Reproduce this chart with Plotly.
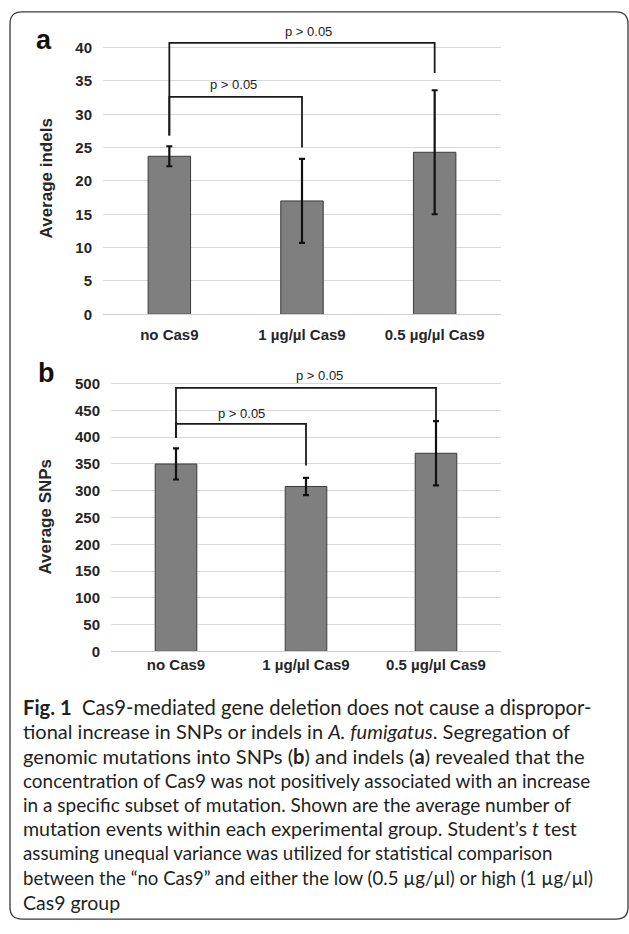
import plotly.graph_objects as go

W, H = 629, 934

# ---------------- data ----------------
categories = ["no Cas9", "1 µg/µl Cas9", "0.5 µg/µl Cas9"]
indels_mean = [23.7, 17.0, 24.3]
indels_err = [1.5, 6.3, 9.3]
snps_mean = [350, 308, 370]
snps_err = [29, 16, 60]
indels_ticks = [0, 5, 10, 15, 20, 25, 30, 35, 40]
snps_ticks = [0, 50, 100, 150, 200, 250, 300, 350, 400, 450, 500]
# significance brackets: [group_a, group_b, bar level, leg bottom a, leg bottom b]
indels_brackets = [[0, 1, 32.6, 26.8, 25.0], [0, 2, 40.7, 26.8, 36.2]]
snps_brackets = [[0, 1, 425, 399, 347], [0, 2, 492, 399, 431]]
p_label = "p > 0.05"

caption_lines = [
    "<b>Fig. 1</b>  Cas9-mediated gene deletion does not cause a dispropor-",
    "tional increase in SNPs or indels in <i>A. fumigatus</i>. Segregation of",
    "genomic mutations into SNPs (<b>b</b>) and indels (<b>a</b>) revealed that the",
    "concentration of Cas9 was not positively associated with an increase",
    "in a specific subset of mutation. Shown are the average number of",
    "mutation events within each experimental group. Student’s <i>t</i> test",
    "assuming unequal variance was utilized for statistical comparison",
    "between the “no Cas9” and either the low (0.5 µg/µl) or high (1 µg/µl)",
    "Cas9 group",
]
# per-line font sizes so each line fills the same width as the original typesetting
caption_sizes = [20.2, 20.0, 20.1, 18.95, 19.0, 19.6, 18.7, 18.6, 19.5]


def PX(x):
    return x / W


def PY(y):
    return 1 - y / H


fig = go.Figure()

BAR_COLOR = "#7f7f7f"
GRID = "#d9d9d9"
TXT = "#262626"
FONT = "Liberation Sans, Arial, sans-serif"

panels = [
    dict(xa="x", ya="y", mean=indels_mean, err=indels_err, br=indels_brackets),
    dict(xa="x2", ya="y2", mean=snps_mean, err=snps_err, br=snps_brackets),
]

for p in panels:
    fig.add_trace(go.Bar(
        x=categories, y=p["mean"], xaxis=p["xa"], yaxis=p["ya"],
        width=0.32,
        marker=dict(color=BAR_COLOR, line=dict(color="#3a3a3a", width=1)),
        error_y=dict(type="data", array=p["err"], visible=True,
                     color="#111111", thickness=2.2, width=3),
        showlegend=False, hoverinfo="skip",
    ))
    for g1, g2, lvl, b1, b2 in p["br"]:
        fig.add_trace(go.Scatter(
            x=[categories[g1], categories[g1], categories[g2], categories[g2]],
            y=[b1, lvl, lvl, b2],
            xaxis=p["xa"], yaxis=p["ya"], mode="lines",
            line=dict(color="#1a1a1a", width=1.8),
            cliponaxis=False, showlegend=False, hoverinfo="skip",
        ))

# axes geometry (pixels): zero line, pixel per unit, top of range
a_y0, a_scale, a_top = 317, 6.725, 45
b_y0, b_scale, b_top = 657, 0.54, 560

TICKFONT = dict(family=FONT, size=15, color=TXT, weight="bold")
axis_common = dict(showgrid=False, zeroline=False, ticks="", tickfont=TICKFONT,
                   showline=True, linecolor="#cfcfcf", linewidth=1.2,
                   fixedrange=True, type="category", range=[-0.5, 2.5])
yaxis_common = dict(showgrid=True, gridcolor=GRID, gridwidth=1.2, zeroline=False,
                    ticks="", showline=False, tickfont=TICKFONT,
                    ticklabelstandoff=10, fixedrange=True)

fig.update_layout(
    width=W, height=H, margin=dict(l=0, r=0, t=0, b=0),
    paper_bgcolor="white", plot_bgcolor="white",
    xaxis=dict(domain=[PX(103), PX(501)], anchor="y", ticklabelstandoff=7,
               **axis_common),
    yaxis=dict(domain=[PY(a_y0), PY(a_y0 - a_top * a_scale)], anchor="x",
               range=[0, a_top], tickvals=indels_ticks, **yaxis_common),
    xaxis2=dict(domain=[PX(111), PX(501)], anchor="y2", ticklabelstandoff=0,
                **axis_common),
    yaxis2=dict(domain=[PY(b_y0), PY(b_y0 - b_top * b_scale)], anchor="x2",
                range=[0, b_top], tickvals=snps_ticks, **yaxis_common),
)

ann = []
# p-value labels
for xa, ya, pos in [("x", "y", [(0.48, 34.5), (1.05, 42.4)]),
                    ("x2", "y2", [(0.5, 445), (1.1, 515)])]:
    for xv, yv in pos:
        ann.append(dict(x=xv, y=yv, xref=xa, yref=ya, text=p_label, showarrow=False,
                        xanchor="center", yanchor="middle",
                        font=dict(family="Liberation Sans Narrow, Liberation Sans, Arial",
                                  size=13, color="#222222")))
# panel letters
for txt, xp, yp in [("a", 44, 40), ("b", 46, 376)]:
    ann.append(dict(x=PX(xp), y=PY(yp), xref="paper", yref="paper",
                    text=f"<b>{txt}</b>", showarrow=False,
                    xanchor="center", yanchor="middle",
                    font=dict(family=FONT, size=27, color="#111111")))
# axis titles
for txt, yp in [("Average indels", 180), ("Average SNPs", 521)]:
    ann.append(dict(x=PX(46), y=PY(yp), xref="paper", yref="paper",
                    text=f"<b>{txt}</b>", textangle=-90, showarrow=False,
                    xanchor="center", yanchor="middle",
                    font=dict(family=FONT, size=17, color=TXT)))
# caption
for i, line in enumerate(caption_lines):
    ann.append(dict(x=PX(21), y=PY(713 + i * 24.6), xref="paper", yref="paper",
                    text=line, showarrow=False, xanchor="left", yanchor="middle",
                    font=dict(family="Lato, Open Sans, sans-serif",
                              size=caption_sizes[i], color="#231f20")))
fig.update_layout(annotations=ann)

# rounded frame
x0, y0, x1, y1, r = 10, 12, 628, 927, 12
rx, ry = r / W, r / H
X0, X1, Y0, Y1 = PX(x0), PX(x1), PY(y0), PY(y1)
path = (f"M {X0 + rx},{Y0} L {X1 - rx},{Y0} Q {X1},{Y0} {X1},{Y0 - ry} "
        f"L {X1},{Y1 + ry} Q {X1},{Y1} {X1 - rx},{Y1} "
        f"L {X0 + rx},{Y1} Q {X0},{Y1} {X0},{Y1 + ry} "
        f"L {X0},{Y0 - ry} Q {X0},{Y0} {X0 + rx},{Y0} Z")
fig.add_shape(type="path", path=path, xref="paper", yref="paper",
              line=dict(color="#3a3a3a", width=1.3), layer="above")

fig.write_html("out.html", config={"displayModeBar": False},
               post_script="document.body.style.margin='0px';"
                           "document.body.style.overflow='hidden';")
